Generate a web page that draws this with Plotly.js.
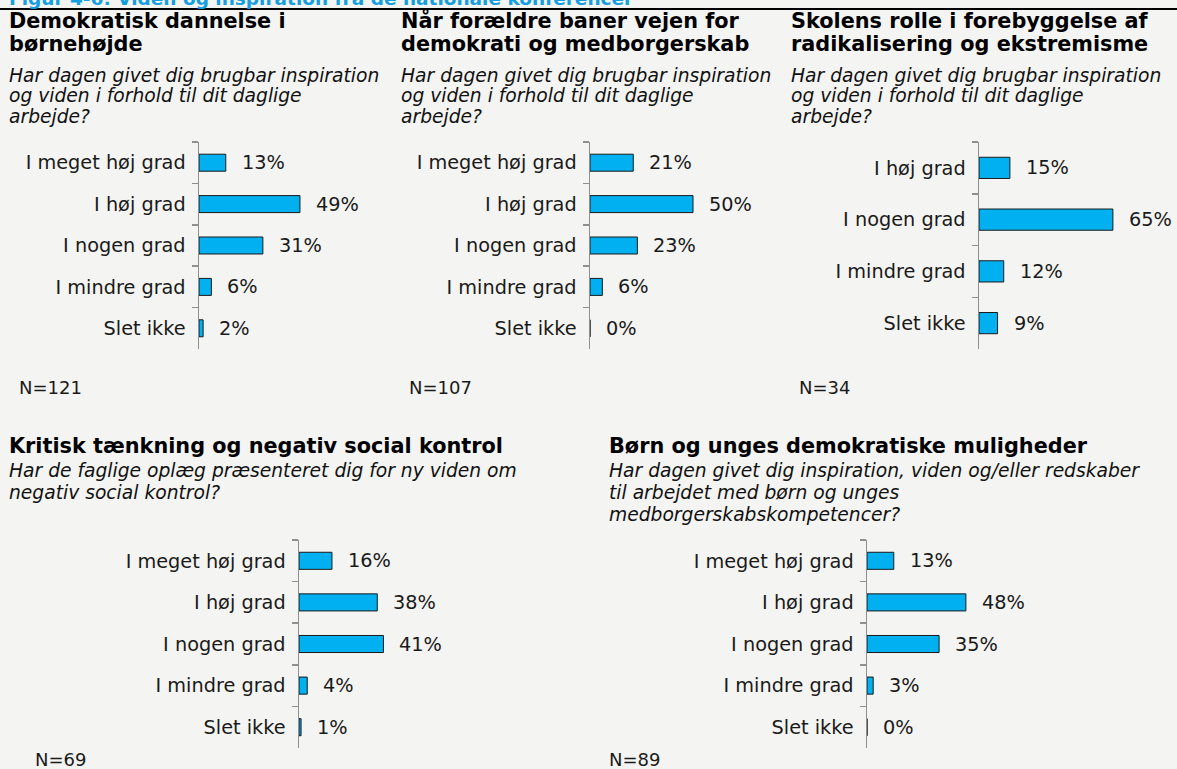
<!DOCTYPE html>
<html>
<head>
<meta charset="utf-8">
<script src="https://cdn.plot.ly/plotly-3.0.1.min.js"></script>
<style>
html,body{margin:0;padding:0;background:#f4f4f2;}
#chart{width:1177px;height:769px;}
</style>
</head>
<body>
<div id="chart"></div>
<script>
// ---- data ----
const categories5 = ["I meget høj grad", "I høj grad", "I nogen grad", "I mindre grad", "Slet ikke"];
const categories4 = ["I høj grad", "I nogen grad", "I mindre grad", "Slet ikke"];

const values1 = [13, 49, 31, 6, 2];
const values2 = [21, 50, 23, 6, 0];
const values3 = [15, 65, 12, 9];
const values4 = [16, 38, 41, 4, 1];
const values5 = [13, 48, 35, 3, 0];

const titles = [
  ["Demokratisk dannelse i", "børnehøjde"],
  ["Når forældre baner vejen for", "demokrati og medborgerskab"],
  ["Skolens rolle i forebyggelse af", "radikalisering og ekstremisme"],
  ["Kritisk tænkning og negativ social kontrol"],
  ["Børn og unges demokratiske muligheder"]
];
const subtitles = [
  ["Har dagen givet dig brugbar inspiration", "og viden i forhold til dit daglige", "arbejde?"],
  ["Har dagen givet dig brugbar inspiration", "og viden i forhold til dit daglige", "arbejde?"],
  ["Har dagen givet dig brugbar inspiration", "og viden i forhold til dit daglige", "arbejde?"],
  ["Har de faglige oplæg præsenteret dig for ny viden om", "negativ social kontrol?"],
  ["Har dagen givet dig inspiration, viden og/eller redskaber", "til arbejdet med børn og unges", "medborgerskabskompetencer?"]
];
const nLabels = ["N=121", "N=107", "N=34", "N=69", "N=89"];
const figureTitle = "Figur 4-6: Viden og inspiration fra de nationale konferencer";

// ---- layout geometry (pixels) ----
const W = 1177, H = 769;
const FONT = "DejaVu Sans, Verdana, sans-serif";
const LABEL_SIZE = 19.3, SUB_SIZE = 18.7, TITLE_SIZE = 20.8, N_SIZE = 18;
const pxPerPct = 2.06;
const XMAX = 70;
const panels = [
  {cats: categories5, vals: values1, axisX: 199, top: 142, bottom: 349, textX: 8,   titleY: [21, 44], subY: [75, 96, 117], nX: 18,  nY: 387},
  {cats: categories5, vals: values2, axisX: 590, top: 142, bottom: 349, textX: 400, titleY: [21, 44], subY: [75, 96, 117], nX: 408, nY: 387},
  {cats: categories4, vals: values3, axisX: 979, top: 142, bottom: 349, textX: 790, titleY: [21, 44], subY: [75, 96, 117], nX: 798, nY: 387},
  {cats: categories5, vals: values4, axisX: 299, top: 540, bottom: 748, textX: 8,   titleY: [446],     subY: [470, 492],     nX: 34,  nY: 759},
  {cats: categories5, vals: values5, axisX: 867, top: 540, bottom: 748, textX: 608, titleY: [446],     subY: [470, 492, 514], nX: 608, nY: 759}
];

const fx = x => x / W;
const fy = y => 1 - y / H;

const traces = [];
const layout = {
  width: W, height: H,
  margin: {l: 0, r: 0, t: 0, b: 0, pad: 0},
  paper_bgcolor: "#f4f4f2",
  plot_bgcolor: "rgba(0,0,0,0)",
  showlegend: false,
  font: {family: FONT, size: LABEL_SIZE, color: "#1a1a1a"},
  annotations: [],
  shapes: [
    {type: "line", xref: "paper", yref: "paper", x0: 0, x1: 1, y0: fy(9), y1: fy(9),
     line: {color: "#000000", width: 2}}
  ]
};

layout.annotations.push({
  xref: "paper", yref: "paper", x: fx(7), y: fy(-2), xanchor: "left", yanchor: "middle",
  text: "<b>" + figureTitle + "</b>", showarrow: false,
  font: {family: FONT, size: 18.5, color: "#14a0e0"}
});

panels.forEach((p, i) => {
  const k = i === 0 ? "" : String(i + 1);
  traces.push({
    type: "bar", orientation: "h",
    x: p.vals, y: p.cats,
    xaxis: "x" + k, yaxis: "y" + k,
    width: 0.41,
    marker: {color: "#00b0f0", line: {color: "#1a1a1a", width: 1}},
    hoverinfo: "skip"
  });
  layout["xaxis" + k] = {
    domain: [fx(p.axisX), fx(p.axisX + pxPerPct * XMAX)],
    range: [0, XMAX], visible: false, fixedrange: true,
    anchor: "y" + k
  };
  layout["yaxis" + k] = {
    domain: [fy(p.bottom), fy(p.top)],
    type: "category", categoryorder: "array", categoryarray: p.cats,
    range: [p.cats.length - 0.5, -0.5],
    showline: true, linecolor: "#8f8f8f", linewidth: 1.5,
    ticks: "outside", tickson: "boundaries", ticklen: 6, tickcolor: "#8f8f8f", tickwidth: 1.5,
    ticklabelstandoff: 8,
    showgrid: false, zeroline: false, fixedrange: true,
    tickfont: {family: FONT, size: LABEL_SIZE, color: "#1a1a1a"},
    anchor: "x" + k
  };
  // value labels
  p.vals.forEach((v, j) => {
    layout.annotations.push({
      xref: "x" + k, yref: "y" + k, x: v, y: p.cats[j],
      xanchor: "left", yanchor: "middle", xshift: 14, showarrow: false,
      text: v + "%", font: {family: FONT, size: LABEL_SIZE, color: "#1a1a1a"}
    });
  });
  // titles
  titles[i].forEach((t, j) => {
    layout.annotations.push({
      xref: "paper", yref: "paper", x: fx(p.textX - 1), y: fy(p.titleY[j]),
      xanchor: "left", yanchor: "middle", showarrow: false,
      text: "<b>" + t + "</b>", font: {family: FONT, size: TITLE_SIZE, color: "#000000"}
    });
  });
  subtitles[i].forEach((t, j) => {
    layout.annotations.push({
      xref: "paper", yref: "paper", x: fx(p.textX - 1), y: fy(p.subY[j]),
      xanchor: "left", yanchor: "middle", showarrow: false,
      text: "<i>" + t + "</i>", font: {family: FONT, size: SUB_SIZE, color: "#111111"}
    });
  });
  layout.annotations.push({
    xref: "paper", yref: "paper", x: fx(p.nX - 1), y: fy(p.nY),
    xanchor: "left", yanchor: "middle", showarrow: false,
    text: nLabels[i], font: {family: FONT, size: N_SIZE, color: "#1a1a1a"}
  });
});

Plotly.newPlot("chart", traces, layout, {staticPlot: true, displayModeBar: false});
</script>
</body>
</html>
